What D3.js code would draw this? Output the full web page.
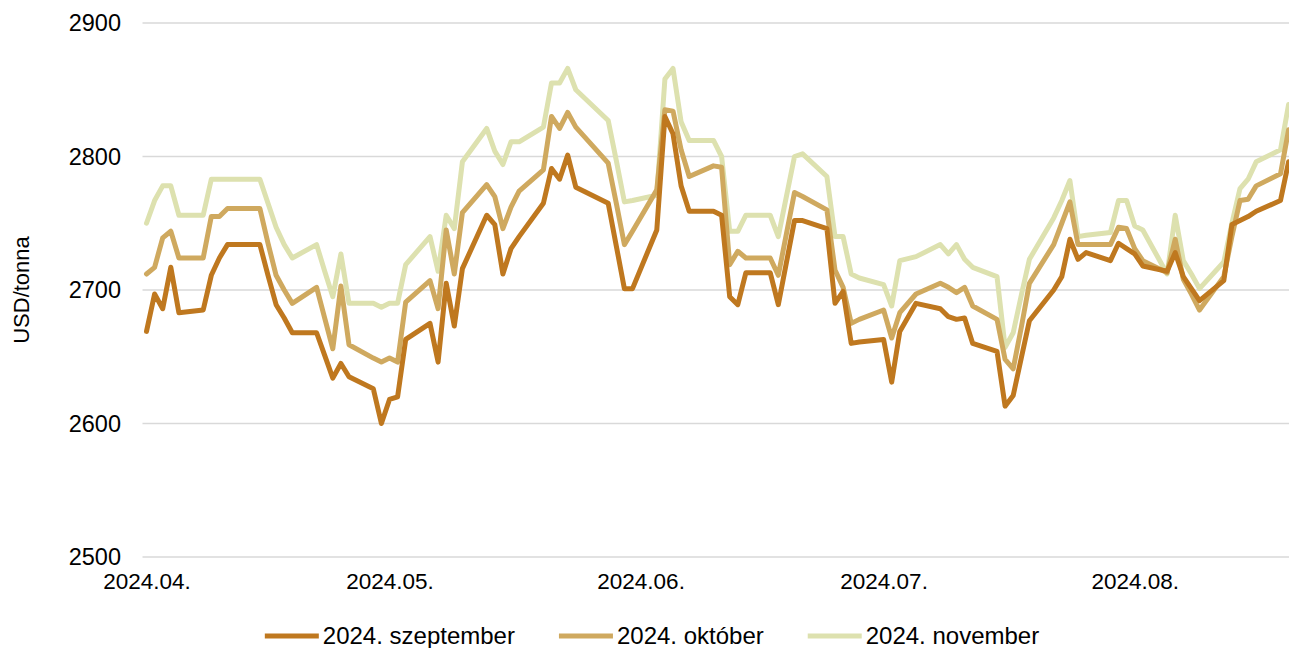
<!DOCTYPE html>
<html>
<head>
<meta charset="utf-8">
<script src="https://cdn.jsdelivr.net/npm/d3@7/dist/d3.min.js"></script>
<style>
  html, body { margin: 0; padding: 0; background: #fff; }
  svg text { font-family: "Liberation Sans", Arial, sans-serif; fill: #000; }
</style>
</head>
<body>
<svg id="chart" width="1289" height="648"></svg>
<script>
// Trading days (weekends and exchange holidays are absent)
const dates = [
  "2024-04-01","2024-04-02","2024-04-03","2024-04-04","2024-04-05","2024-04-08","2024-04-09","2024-04-10","2024-04-11","2024-04-12",
  "2024-04-15","2024-04-16","2024-04-17","2024-04-18","2024-04-19","2024-04-22","2024-04-23","2024-04-24","2024-04-25","2024-04-26",
  "2024-04-29","2024-04-30",
  "2024-05-01","2024-05-02","2024-05-03","2024-05-06","2024-05-07","2024-05-08","2024-05-09","2024-05-10","2024-05-13","2024-05-14",
  "2024-05-15","2024-05-16","2024-05-17","2024-05-20","2024-05-21","2024-05-22","2024-05-23","2024-05-24","2024-05-28","2024-05-29",
  "2024-05-30","2024-05-31",
  "2024-06-03","2024-06-04","2024-06-05","2024-06-06","2024-06-07","2024-06-10","2024-06-11","2024-06-12","2024-06-13","2024-06-14",
  "2024-06-17","2024-06-18","2024-06-20","2024-06-21","2024-06-24","2024-06-25","2024-06-26","2024-06-27","2024-06-28",
  "2024-07-01","2024-07-02","2024-07-03","2024-07-05","2024-07-08","2024-07-09","2024-07-10","2024-07-11","2024-07-12","2024-07-15",
  "2024-07-16","2024-07-17","2024-07-18","2024-07-19","2024-07-22","2024-07-23","2024-07-24","2024-07-25","2024-07-26","2024-07-29",
  "2024-07-30","2024-07-31",
  "2024-08-01","2024-08-02","2024-08-05","2024-08-06","2024-08-07","2024-08-08","2024-08-09","2024-08-12","2024-08-13","2024-08-14",
  "2024-08-15","2024-08-16","2024-08-19","2024-08-20"
];

// Settlement prices, USD/tonna, by delivery month
const szeptember = [
  2669,2697,2686,2717,2683,2685,2711,2724,2734,2734,2734,2711,2689,2679,2668,2668,2651,2634,2645,2635,2626,2600,
  2618,2620,2663,2675,2646,2705,2673,2716,2756,2749,2712,2731,2740,2765,2791,2783,2801,2777,2765,2733,2701,2701,
  2745,2830,2817,2778,2759,2759,2756,2695,2689,2713,2713,2689,2752,2752,2746,2690,2699,2660,2661,
  2663,2631,2669,2690,2686,2680,2678,2679,2660,2654,2613,2621,2649,2677,2700,2710,2738,2723,2728,2722,2735,2731,
  2727,2718,2714,2728,2710,2701,2692,2707,2749,2752,2755,2759,2767,2796
];
const oktober = [
  2712,2717,2739,2744,2724,2724,2755,2755,2761,2761,2761,2735,2711,2700,2690,2702,2679,2656,2703,2659,2649,2646,
  2649,2646,2691,2707,2686,2745,2712,2758,2779,2770,2746,2762,2774,2790,2830,2821,2833,2822,2795,2765,2734,2744,
  2775,2835,2834,2805,2785,2793,2792,2719,2729,2724,2724,2711,2773,2770,2760,2715,2702,2675,2678,
  2685,2664,2683,2697,2705,2702,2698,2702,2688,2678,2648,2641,2672,2705,2734,2750,2766,2734,2734,2734,2747,2746,
  2731,2722,2713,2738,2708,2697,2685,2710,2740,2767,2768,2778,2787,2820
];
const november = [
  2750,2767,2778,2778,2756,2756,2783,2783,2783,2783,2783,2765,2747,2734,2724,2734,2714,2695,2727,2690,2690,2687,
  2690,2690,2719,2740,2714,2756,2746,2796,2821,2804,2794,2811,2811,2822,2855,2855,2866,2850,2827,2797,2766,2767,
  2771,2858,2866,2826,2812,2812,2800,2744,2744,2756,2756,2740,2800,2802,2785,2740,2740,2712,2709,
  2704,2688,2722,2725,2734,2727,2734,2723,2717,2710,2657,2668,2696,2723,2754,2767,2782,2740,2741,2743,2767,2767,
  2748,2745,2712,2756,2722,2712,2701,2721,2750,2776,2783,2796,2805,2839
];

const seriesNames = ["2024. szeptember", "2024. október", "2024. november"];
const seriesColors = ["#BF781F", "#CFA95F", "#DDE1AF"];
const yTicks = [2500, 2600, 2700, 2800, 2900];
const xTicks = ["2024-04-01", "2024-05-01", "2024-06-01", "2024-07-01", "2024-08-01"];
const yTitle = "USD/tonna";

const parse = d3.utcParse("%Y-%m-%d");
const svg = d3.select("#chart");
const FAMILY = "Liberation Sans, Arial, sans-serif";

// Plot geometry
const x = d3.scaleUtc()
  .domain([parse("2024-04-01"), parse("2024-08-20")])
  .range([146.5, 1288.6]);
const y = d3.scaleLinear().domain([2500, 2900]).range([557, 23]);
const gridLeft = 142.5, gridRight = 1289;

// Horizontal gridlines
svg.append("g").selectAll("line").data(yTicks).join("line")
  .attr("x1", gridLeft).attr("x2", gridRight)
  .attr("y1", d => y(d)).attr("y2", d => y(d))
  .attr("stroke", "#D9D9D9").attr("stroke-width", 1.5);

// Y axis labels
const yAxis = d3.axisLeft(y).tickValues(yTicks).tickSize(0).tickPadding(0).tickFormat(d3.format("d"));
svg.append("g").attr("transform", "translate(121,0)").call(yAxis)
  .call(g => g.select(".domain").remove())
  .selectAll("text").attr("font-size", 23.5).attr("font-family", FAMILY).attr("fill", "#000");

// X axis labels (month starts)
const xAxis = d3.axisBottom(x).tickValues(xTicks.map(parse)).tickSize(0).tickPadding(0)
  .tickFormat(d3.utcFormat("%Y.%m."));
svg.append("g").attr("transform", "translate(0,573)").call(xAxis)
  .call(g => g.select(".domain").remove())
  .selectAll("text").attr("font-size", 22.5).attr("font-family", FAMILY).attr("fill", "#000");

// Y axis title
svg.append("text")
  .attr("transform", "translate(29,290) rotate(-90)")
  .attr("text-anchor", "middle")
  .attr("font-size", 22)
  .text(yTitle);

// Lines (november drawn first so darker series sit on top)
const allSeries = [szeptember, oktober, november];
const line = d3.line().x(d => x(d.date)).y(d => y(d.value));
[2, 1, 0].forEach(i => {
  const pts = dates.map((d, k) => ({ date: parse(d), value: allSeries[i][k] }));
  svg.append("path").datum(pts)
    .attr("fill", "none")
    .attr("stroke", seriesColors[i])
    .attr("stroke-width", 5)
    .attr("stroke-linejoin", "round")
    .attr("stroke-linecap", "round")
    .attr("d", line);
});

// Legend, centred below the plot
const legend = svg.append("g");
const swatchW = 54, swatchGap = 4, itemGap = 44, legendY = 636;
const items = seriesNames.map((name, i) => {
  const g = legend.append("g");
  g.append("line").attr("x1", 0).attr("x2", swatchW).attr("y1", 0).attr("y2", 0)
    .attr("stroke", seriesColors[i]).attr("stroke-width", 5);
  const t = g.append("text").attr("x", swatchW + swatchGap).attr("y", 0).attr("dy", "0.35em")
    .attr("font-size", 24).text(name);
  return { g, w: swatchW + swatchGap + t.node().getComputedTextLength() };
});
const total = d3.sum(items, d => d.w) + itemGap * (items.length - 1);
let cx = 652 - total / 2;
items.forEach(it => { it.g.attr("transform", `translate(${cx},${legendY})`); cx += it.w + itemGap; });
</script>
</body>
</html>
